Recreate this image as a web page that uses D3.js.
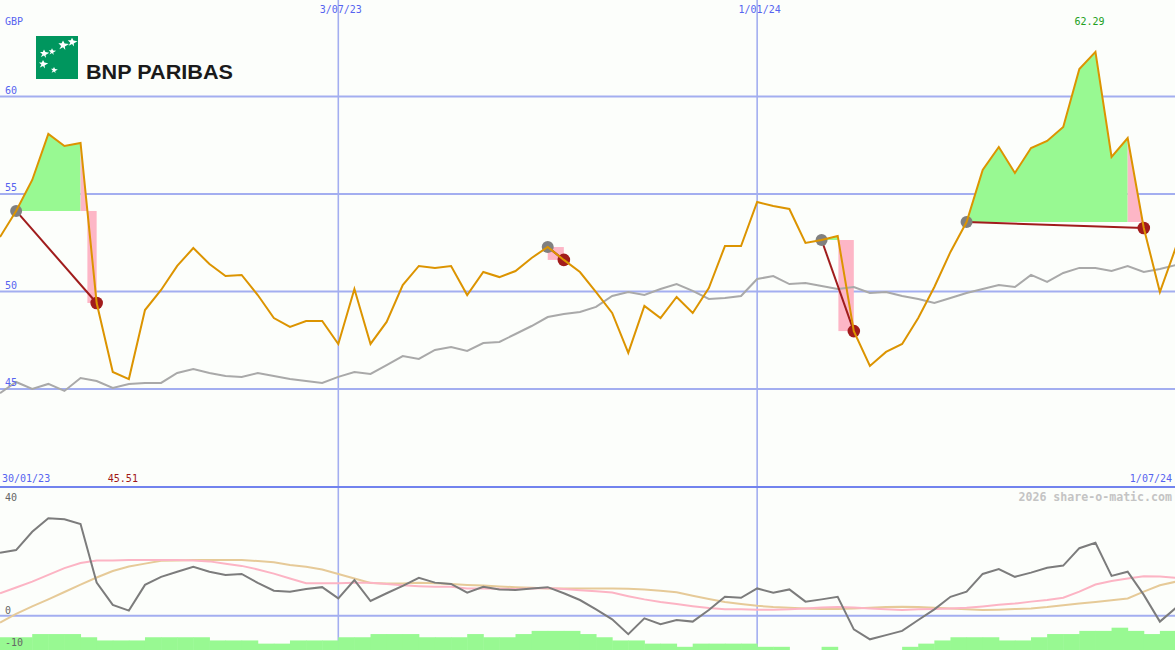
<!DOCTYPE html>
<html><head><meta charset="utf-8">
<script src="https://cdn.jsdelivr.net/npm/d3@7"></script>
<style>html,body{margin:0;padding:0;background:#fcfefb;overflow:hidden}</style>
</head><body><svg id="c" width="1175" height="650"></svg>
<script>
// ---------- data ----------
const startDate = new Date(2023, 1, 6);
const endDate = new Date(2024, 6, 1);
const weeks = d3.timeMonday.range(startDate, d3.timeDay.offset(endDate, 1)); // 74 weekly points

const price = [52.79,54.13,55.72,58.08,57.46,57.62,49.41,45.87,45.51,49.05,
  50.08,51.31,52.23,51.41,50.79,50.85,49.82,48.64,48.18,48.49,
  48.49,47.31,50.13,47.31,48.44,50.33,51.31,51.21,51.31,49.82,
  51.00,50.74,51.05,51.72,52.28,51.62,51.00,49.97,48.90,46.85,
  49.26,48.64,49.72,48.90,50.18,52.33,52.33,54.59,54.38,54.23,
  52.49,52.64,52.85,47.97,46.18,46.90,47.31,48.64,50.23,52.03,
  53.56,56.23,57.41,56.08,57.36,57.72,58.44,61.41,62.29,56.90,
  57.87,53.26,49.97,52.28];

const average = [44.79,45.36,45.00,45.26,44.90,45.56,45.41,45.05,45.26,45.31,
  45.31,45.82,46.03,45.82,45.67,45.62,45.82,45.67,45.51,45.41,
  45.31,45.62,45.87,45.77,46.23,46.69,46.54,47.00,47.15,46.95,
  47.36,47.41,47.82,48.23,48.69,48.85,48.95,49.21,49.77,49.97,
  49.82,50.13,50.38,50.03,49.62,49.67,49.77,50.64,50.79,50.38,
  50.44,50.28,50.13,50.23,49.92,49.97,49.77,49.62,49.41,49.67,
  49.92,50.13,50.33,50.23,50.85,50.49,50.95,51.21,51.21,51.05,
  51.31,51.00,51.15,51.36];

const momentum = [19.6,20.4,26.1,30.3,30.0,28.5,10.3,3.4,1.6,9.6,
  12.1,13.7,15.2,13.7,12.7,13.0,10.2,7.8,7.5,8.3,
  8.9,5.4,11.1,4.6,7.0,9.3,11.8,10.3,9.9,7.2,
  9.0,8.2,8.0,8.5,8.9,7.0,4.9,2.0,-1.1,-5.7,
  -0.8,-2.6,-1.3,-1.8,1.8,5.9,5.6,8.5,7.2,8.2,
  4.4,5.1,5.9,-4.2,-7.3,-6.0,-4.7,-1.3,2.0,5.9,
  7.5,13.0,14.5,12.1,13.4,14.9,15.6,21.0,22.7,12.4,
  13.7,6.5,-1.8,2.5];

const signalFast = [7.0,8.8,10.6,12.7,14.8,16.4,17.2,17.2,17.3,17.3,
  17.3,17.3,17.2,16.9,16.2,15.5,14.4,13.1,11.6,10.1,
  10.1,10.1,10.3,10.3,9.9,9.5,9.2,9.0,9.0,8.5,
  8.5,8.4,8.3,8.5,8.6,8.3,7.9,7.6,7.2,6.1,
  5.1,4.3,3.7,3.0,2.4,2.0,2.0,1.9,1.9,2.0,
  2.3,2.6,2.7,2.6,2.3,2.0,1.8,2.0,2.1,2.3,
  2.5,2.9,3.4,3.8,4.4,4.9,5.6,7.5,9.7,10.8,
  11.6,12.3,12.2,11.8];

const signalSlow = [-2.1,0.6,2.9,5.1,7.4,9.7,11.9,13.9,15.3,16.2,
  17.1,17.2,17.3,17.3,17.3,17.3,17.0,16.6,15.8,15.2,
  14.4,13.0,11.6,10.2,10.0,10.0,10.3,10.1,9.9,9.6,
  9.4,9.1,8.9,8.7,8.5,8.5,8.5,8.5,8.5,8.4,
  8.2,7.8,7.3,6.2,5.2,4.3,3.7,3.1,2.7,2.5,
  2.3,2.1,2.1,2.3,2.5,2.7,2.8,2.7,2.5,2.3,
  2.0,1.8,1.9,2.1,2.3,2.7,3.3,3.8,4.3,4.8,
  5.4,7.5,9.5,10.6];

const volume = [4,4,5,5,5,4,3,3,3,4,
  4,4,4,3,3,3,2,2,3,3,
  3,4,4,5,5,5,4,4,4,5,
  4,4,5,6,6,6,5,4,3,3,
  2,2,1,2,2,2,2,1,1,0,
  0,1,0,0,0,0,1,2,3,4,
  4,4,3,3,4,5,5,6,6,7,
  6,5,6];

const entryIdx = [1, 34, 51, 60];
const exitIdx = [6, 35, 53, 71];

const markerDates = [new Date(2023, 6, 3), new Date(2024, 0, 1)];
const markerLabels = ["3/07/23", "1/01/24"];
const priceTicks = [45, 50, 55, 60];
const lowerTicks = [40, 0, -10];
const lowerGrid = [0];
const currency = "GBP";
const startLabel = "30/01/23";
const endLabel = "1/07/24";
const credit = "2026 share-o-matic.com";
const brand = "BNP PARIBAS";

// ---------- scales ----------
const W = 1175, H = 650;
const x = d3.scaleTime().domain([weeks[0], weeks[weeks.length - 1]]).range([0, 1176]);
const y = d3.scaleLinear().domain([40, 65]).range([486.5, -1]);
const yl = d3.scaleLinear().domain([-10, 40]).range([648, 487]);
const yv = d3.scaleLinear().domain([0, 7]).range([650, 627.7]);

const svg = d3.select("#c");
const mono = "'DejaVu Sans Mono', monospace";
const gridCol = "#a3aef0", labelBlue = "#5664f0";

svg.append("rect").attr("width", W).attr("height", H).attr("fill", "#fcfefb");

const defs = svg.append("defs");
defs.append("clipPath").attr("id", "mainClip").append("rect").attr("x", 0).attr("y", 0).attr("width", W).attr("height", 487);
defs.append("clipPath").attr("id", "lowClip").append("rect").attr("x", 0).attr("y", 488).attr("width", W).attr("height", 162);

// ---------- grid ----------
svg.selectAll(".hg").data(priceTicks).enter().append("line")
  .attr("x1", 0).attr("x2", W).attr("y1", d => y(d)).attr("y2", d => y(d))
  .attr("stroke", gridCol).attr("stroke-width", 2);
svg.selectAll(".lg").data(lowerGrid).enter().append("line")
  .attr("x1", 0).attr("x2", W).attr("y1", d => yl(d)).attr("y2", d => yl(d))
  .attr("stroke", gridCol).attr("stroke-width", 2);
svg.selectAll(".vg").data(markerDates).enter().append("line")
  .attr("x1", d => x(d)).attr("x2", d => x(d)).attr("y1", 0).attr("y2", H)
  .attr("stroke", gridCol).attr("stroke-width", 1.6);
svg.append("line").attr("x1", 0).attr("x2", W).attr("y1", yl(40)).attr("y2", yl(40))
  .attr("stroke", "#7283ee").attr("stroke-width", 2.2);

// ---------- lower panel ----------
const low = svg.append("g").attr("clip-path", "url(#lowClip)");
low.selectAll(".vb").data(volume).enter().append("rect")
  .attr("x", (d, i) => x(weeks[i]))
  .attr("width", (d, i) => x(weeks[i + 1]) - x(weeks[i]) + 0.5)
  .attr("y", d => yv(d)).attr("height", d => yv(0) - yv(d))
  .attr("fill", "#98f992");
const lineLow = arr => d3.line().x((d, i) => x(weeks[i])).y(d => yl(d))(arr);
low.append("path").attr("d", lineLow(signalSlow)).attr("fill", "none").attr("stroke", "#e6ca98").attr("stroke-width", 2);
low.append("path").attr("d", lineLow(signalFast)).attr("fill", "none").attr("stroke", "#fcb4c4").attr("stroke-width", 2);
low.append("path").attr("d", lineLow(momentum)).attr("fill", "none").attr("stroke", "#7c7c7c").attr("stroke-width", 2);

// ---------- main panel ----------
const main = svg.append("g").attr("clip-path", "url(#mainClip)");
const px = i => x(weeks[i]);
const py = i => y(price[i]);

entryIdx.forEach((e, k) => {
  const xi = exitIdx[k];
  const L = price[e];
  if (xi - 1 > e) {
    const idx = d3.range(e, xi);
    const area = d3.area().x(i => px(i)).y0(y(L)).y1(i => y(Math.max(price[i], L)));
    main.append("path").attr("d", area(idx)).attr("fill", "#98f992");
  }
  const a = xi - 1;
  let t = (price[a] - L) / (price[a] - price[xi]);
  if (!isFinite(t) || t < 0) t = 0;
  if (t > 1) t = 1;
  const cx = px(a) + (px(xi) - px(a)) * t;
  if (price[a] > L) {
    main.append("path")
      .attr("d", `M${px(a)},${y(L)}L${px(a)},${py(a)}L${cx},${y(L)}Z`)
      .attr("fill", "#fdb6c6");
  }
  if (price[xi] < L) {
    main.append("rect").attr("x", cx).attr("y", y(L))
      .attr("width", px(xi) - cx).attr("height", y(price[xi]) - y(L))
      .attr("fill", "#fdb6c6");
  }
});

main.append("path")
  .attr("d", d3.line().x((d, i) => px(i)).y(d => y(d))(average))
  .attr("fill", "none").attr("stroke", "#a9a9a9").attr("stroke-width", 2);

entryIdx.forEach((e, k) => {
  const xi = exitIdx[k];
  main.append("line").attr("x1", px(e)).attr("y1", py(e)).attr("x2", px(xi)).attr("y2", py(xi))
    .attr("stroke", "#a01c1c").attr("stroke-width", 2);
});
main.selectAll(".en").data(entryIdx).enter().append("circle")
  .attr("cx", d => px(d)).attr("cy", d => py(d)).attr("r", 6).attr("fill", "#808080");
main.selectAll(".ex").data(exitIdx).enter().append("circle")
  .attr("cx", d => px(d)).attr("cy", d => py(d)).attr("r", 6.3).attr("fill", "#a21c1c");

main.append("path")
  .attr("d", d3.line().x((d, i) => px(i)).y(d => y(d))(price))
  .attr("fill", "none").attr("stroke", "#dc9400").attr("stroke-width", 2).attr("stroke-linejoin", "miter");

// ---------- labels ----------
const txt = (t, xx, yy, col, anchor, size, weight) => svg.append("text").text(t)
  .attr("x", xx).attr("y", yy).attr("fill", col)
  .attr("text-anchor", anchor || "start")
  .attr("font-family", mono).attr("font-size", size || 10)
  .attr("font-weight", weight || "normal");

txt(currency, 5, 25, labelBlue);
priceTicks.forEach(v => txt(String(v), 5, y(v) - 3, labelBlue));
markerDates.forEach((d, k) => txt(markerLabels[k], x(d) + 2.5, 13, labelBlue, "middle"));
txt(startLabel, 2, 482, labelBlue);
txt(endLabel, 1172, 482, labelBlue, "end");

const maxI = d3.maxIndex(price), minI = d3.minIndex(price);
txt(price[maxI].toFixed(2), px(maxI) - 6, 25, "#22a022", "middle");
txt(price[minI].toFixed(2), px(minI) - 6, 482, "#a01818", "middle");

txt(credit, 1172, 501, "#c4c4c4", "end", 11.6, "bold");
lowerTicks.forEach(v => txt(String(v), 5, Math.max(yl(v) - 2.3, 500.5), "#666666"));

// ---------- logo ----------
const logo = svg.append("g");
logo.append("rect").attr("x", 36).attr("y", 36).attr("width", 42).attr("height", 43).attr("fill", "#00965e");
const stars = [[43, 64, 4], [54, 70, 3], [44, 53.5, 4], [52, 51.5, 3.2], [63, 45, 4.6], [72, 42, 4.2]];
stars.forEach(([sx, sy, s]) => {
  logo.append("path")
    .attr("d", `M${sx},${sy - s}L${sx + s * 0.35},${sy - s * 0.35}L${sx + s * 1.3},${sy - s * 0.2}L${sx + s * 0.4},${sy + s * 0.35}L${sx + s * 0.5},${sy + s * 1.1}L${sx},${sy + s * 0.5}L${sx - s * 0.8},${sy + s * 0.9}L${sx - s * 0.4},${sy + s * 0.2}L${sx - s},${sy - s * 0.4}L${sx - s * 0.3},${sy - s * 0.4}Z`)
    .attr("fill", "#ffffff");
});
svg.append("text").text(brand).attr("x", 86).attr("y", 78.5)
  .attr("font-family", "'Liberation Sans', Arial, sans-serif").attr("font-weight", "bold")
  .attr("font-size", 20.5).attr("fill", "#1a1a1a")
  .attr("textLength", 147).attr("lengthAdjust", "spacingAndGlyphs");
</script></body></html>
